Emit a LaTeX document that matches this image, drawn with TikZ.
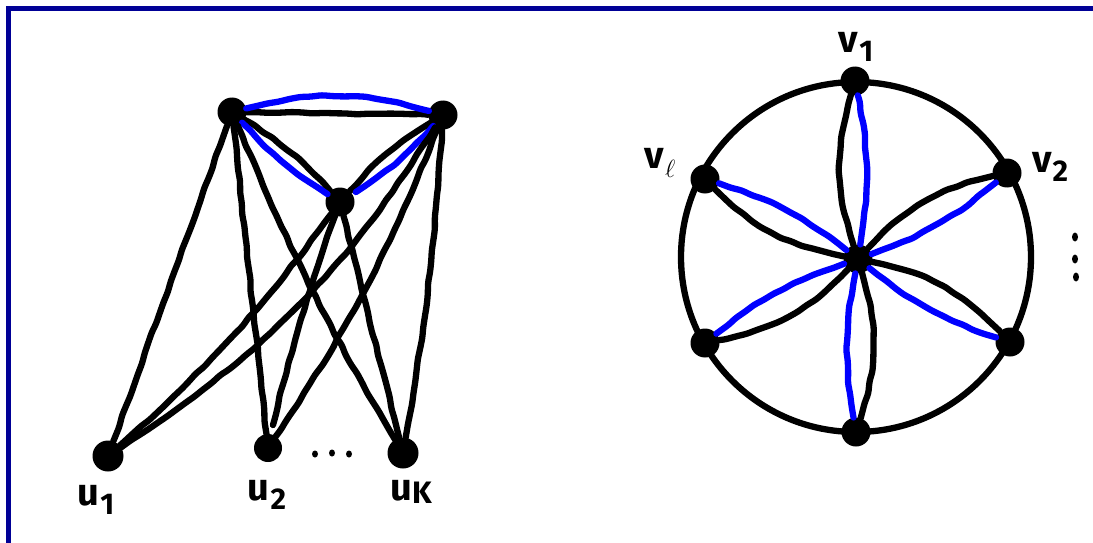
\documentclass[tikz,border=0pt]{standalone}
\usepackage{fontspec}
\newfontfamily\hand{Fira Sans}
\usetikzlibrary{decorations.pathmorphing,shapes.geometric}
\definecolor{frameblue}{RGB}{0,0,150}
\definecolor{pen}{RGB}{0,0,255}
\newcommand{\lbtxt}[2]{{\fontsize{38}{38}\selectfont #1}\kern1pt\raisebox{-9pt}{\fontsize{30}{30}\selectfont #2}}
\tikzset{
  vtx/.style={circle,fill=black,inner sep=0pt,minimum size=29pt},
  ed/.style={draw=black,line width=6.3pt,line cap=round,decorate,
    decoration={random steps,segment length=11pt,amplitude=0.8pt},rounded corners=3pt},
  bed/.style={ed,draw=pen},
  lbl/.style={inner sep=0pt,font=\hand\bfseries},
  dotn/.style={ellipse,fill=black,inner sep=0pt,minimum width=6pt,minimum height=7pt},
  vdot/.style={ellipse,fill=black,inner sep=0pt,minimum width=6pt,minimum height=9pt},
  ring/.style={draw=black,line width=6.3pt},
  frame/.style={draw=frameblue,line width=5pt}
}
\begin{document}
\begin{tikzpicture}[x=1pt,y=1pt]
\pgfmathsetseed{7}
\useasboundingbox (0,0) rectangle (1093,-543);
\draw[frame] (8.5,-543) -- (8.5,-8.5) -- (1093,-8.5);

% ---------- left graph ----------
\node[vtx] (A) at (232,-112) {};
\node[vtx] (B) at (443,-115) {};
\node[vtx] (C) at (340,-202) {};
\node[vtx,minimum size=31pt] (u1) at (108,-456) {};
\node[vtx,minimum size=28pt] (u2) at (268,-448) {};
\node[vtx,minimum size=31pt] (uk) at (403,-453) {};
\coordinate (u2e) at (273,-425);

\draw[ed] (A) -- (B);
\draw[bed] (A) to[bend left=15] (B);
\draw[ed] (A) to[bend left=8] (C);
\draw[bed] (A) to[bend right=7] (C);
\draw[ed] (B) to[bend right=8] (C);
\draw[bed,shorten >=4pt] (B) to[bend left=8] (C);

\draw[ed] (A) -- (u1);
\draw[ed] (A) -- (u2);
\draw[ed] (A) to[bend right=4] (uk);
\draw[ed] (C) to[bend left=6] (u1);
\draw[ed] (C) to[bend right=3] (u2e);
\draw[ed] (C) -- (uk);
\draw[ed] (B) to[bend left=12] (u1);
\draw[ed] (B) to[bend left=6] (u2);
\draw[ed] (B) to[bend left=3] (uk);

\node[dotn] (d1) at (315,-454) {};
\node[dotn] (d2) at (332,-453) {};
\node[dotn] (d3) at (349,-454) {};

\node[lbl] (l1) at (96,-500) {\lbtxt{u}{1}};
\node[lbl] (l2) at (267,-495) {\lbtxt{u}{2}};
\node[lbl] (lk) at (411,-492) {{\fontsize{38}{38}\selectfont u}\raisebox{-3pt}{\fontsize{31}{31}\selectfont K}};

% ---------- right graph ----------
\draw[ring] (856,-257) circle (175);
\node[vtx] (H) at (858,-259) {};
\node[vtx] (v1) at (855,-81) {};
\node[vtx] (v2) at (1007,-173) {};
\node[vtx] (v3) at (1010,-342) {};
\node[vtx] (v4) at (856,-432) {};
\node[vtx] (v5) at (705,-343) {};
\node[vtx] (vl) at (705,-179) {};

\foreach \t in {v1,v2,v3,v4,v5,vl}{
  \draw[ed] (H) to[bend left=17] (\t);
  \draw[bed] (H) to[bend right=10] (\t);
}

\node[lbl] (lv1) at (856,-47) {\lbtxt{v}{1}};
\node[lbl] (lv2) at (1050,-167) {\lbtxt{v}{2}};
\node[lbl] (lvl) at (660,-163) {{\fontsize{38}{38}\selectfont v}\kern1pt\raisebox{-9pt}{\fontsize{34}{34}\selectfont $\ell$}};

\node[vdot] (e1) at (1075,-237) {};
\node[vdot] (e2) at (1075,-259) {};
\node[vdot] (e3) at (1076,-277) {};
\end{tikzpicture}
\end{document}
